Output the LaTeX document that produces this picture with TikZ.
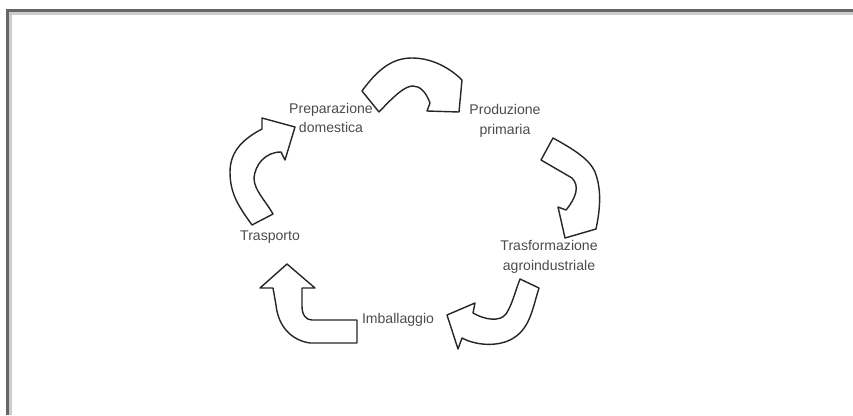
\documentclass[tikz,border=0pt]{standalone}
\usepackage{fontspec}
\setmainfont{Liberation Sans}
\tikzset{
	lbl/.style={font=\fontsize{12}{17}\selectfont, align=center, text=black!70, inner sep=0pt},
	blockarrow/.style={draw=black!85, line width=1.2pt, fill=white, line join=round},
}
\begin{document}
\begin{tikzpicture}[x=0.03cm, y=-0.03cm]
		\useasboundingbox (0,0) rectangle (853,415);
		% frame
		\draw[black!60, line width=0.09cm] (7.5,415) -- (7.5,10.5) -- (853,10.5);
		\draw[black!20, line width=0.09cm] (10.5,415) -- (10.5,13.5) -- (853,13.5);
		% stages
		\node[lbl] (prep) at (331,118) {Preparazione\\domestica};
		\node[lbl] (prod) at (505,121) {Produzione\\primaria};
		\node[lbl] (trasf) at (549,257) {Trasformazione\\agroindustriale};
		\node[lbl] (imb) at (398,320) {Imballaggio};
		\node[lbl] (trasp) at (270,237) {Trasporto};
		% arrows
		\filldraw[blockarrow] (362,91) .. controls (380,66) and (395,58) .. (412,58) .. controls (432,58) and (450,68) .. (462,80) -- (459,112) -- (427,111) -- (430,103) .. controls (426,92) and (420,86) .. (413,86) .. controls (405,86) and (395,95) .. (379,112) -- cycle;
		\filldraw[blockarrow] (553,138) .. controls (575,150) and (590,160) .. (595,172) .. controls (602,190) and (600,210) .. (596,229) -- (565,238) -- (558,207) -- (566,210) .. controls (576,198) and (580,186) .. (572,178) -- (541,160) -- cycle;
		\filldraw[blockarrow] (520,279) -- (539,288) .. controls (532,310) and (530,330) .. (510,340) .. controls (495,347) and (475,345) .. (462,338) -- (458,349) -- (447,315) -- (475,303) -- (473,313) .. controls (485,320) and (500,322) .. (506,314) .. controls (512,305) and (515,292) .. (520,279) -- cycle;
		\filldraw[blockarrow] (357,320) -- (357,343) -- (310,343) .. controls (290,340) and (278,325) .. (276,305) -- (273,288) -- (260,288) -- (287,264) -- (315,288) -- (302,288) -- (302,306) .. controls (302,315) and (306,320) .. (312,320) -- cycle;
		\filldraw[blockarrow] (252,225) .. controls (240,208) and (230,195) .. (230,172) .. controls (230,150) and (245,138) .. (262,129) -- (262,118) -- (295,127) -- (285,160) -- (281,152) .. controls (265,152) and (255,165) .. (254,178) .. controls (254,190) and (265,200) .. (273,214) -- cycle;
	\end{tikzpicture}
\end{document}
